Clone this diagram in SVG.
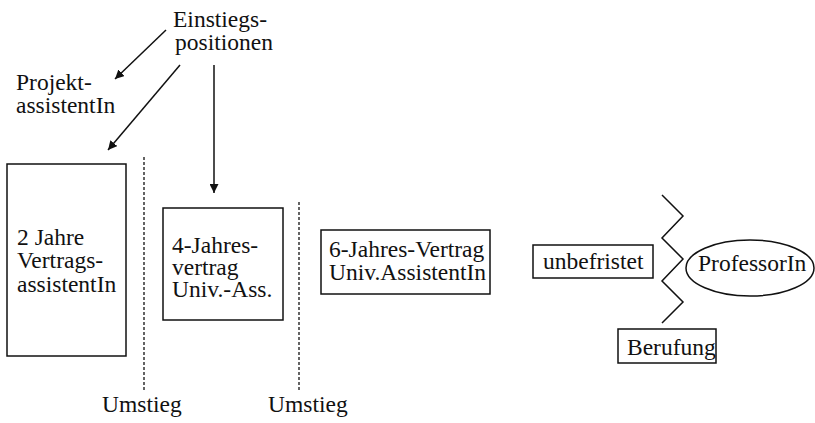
<svg xmlns="http://www.w3.org/2000/svg" width="815" height="423" viewBox="0 0 815 423">
<style>
text{font-family:"Liberation Serif","Times New Roman",serif;font-size:23.5px;fill:#111}
.box{fill:#fff;stroke:#111;stroke-width:1.5}
.conn{stroke:#111;stroke-width:1.5;fill:none}
.dash{stroke:#111;stroke-width:1.3;stroke-dasharray:3,2;fill:none}
</style>
<defs>
<marker id="ah" viewBox="0 0 10 10" refX="10" refY="5" markerWidth="9" markerHeight="9" markerUnits="userSpaceOnUse" orient="auto">
<path d="M0,0 L10,5 L0,10 z" fill="#111"/>
</marker>
</defs>
<rect width="815" height="423" fill="#fff"/>
<g id="einstieg"><text x="173" y="27">Einstiegs-<tspan x="175" y="50">positionen</tspan></text></g>
<g id="projekt"><text x="16" y="90">Projekt-<tspan x="16" y="113">assistentIn</tspan></text></g>
<g id="connectors">
<line class="conn" x1="166" y1="30" x2="115" y2="79" marker-end="url(#ah)"/>
<line class="conn" x1="180" y1="65" x2="108" y2="150" marker-end="url(#ah)"/>
<line class="conn" x1="214" y1="65" x2="214" y2="193" marker-end="url(#ah)"/>
<line class="dash" x1="144" y1="157" x2="144" y2="390"/>
<line class="dash" x1="299" y1="202" x2="299" y2="390"/>
<polyline class="conn" points="662,195 683,216 662,238 683,259 662,281 683,302 662,323"/>
</g>
<g id="box1"><rect class="box" x="7" y="164" width="119" height="192"/><text x="17" y="245">2 Jahre<tspan x="17" y="268">Vertrags-</tspan><tspan x="17" y="292">assistentIn</tspan></text></g>
<g id="box2"><rect class="box" x="163" y="208" width="120" height="112"/><text x="172" y="253">4-Jahres-<tspan x="172" y="275">vertrag</tspan><tspan x="172" y="297">Univ.-Ass.</tspan></text></g>
<g id="box3"><rect class="box" x="321" y="230" width="169" height="64"/><text x="329" y="257">6-Jahres-Vertrag<tspan x="329" y="280">Univ.AssistentIn</tspan></text></g>
<g id="unbefristet"><rect class="box" x="533" y="245" width="120" height="33"/><text x="543" y="269">unbefristet</text></g>
<g id="professor"><ellipse class="box" cx="750" cy="268" rx="64" ry="28"/><text x="698" y="271">ProfessorIn</text></g>
<g id="berufung"><rect class="box" x="618" y="329" width="98" height="34"/><text x="627" y="355">Berufung</text></g>
<g id="umstieg1"><text x="102" y="412">Umstieg</text></g>
<g id="umstieg2"><text x="268" y="412">Umstieg</text></g>
</svg>
